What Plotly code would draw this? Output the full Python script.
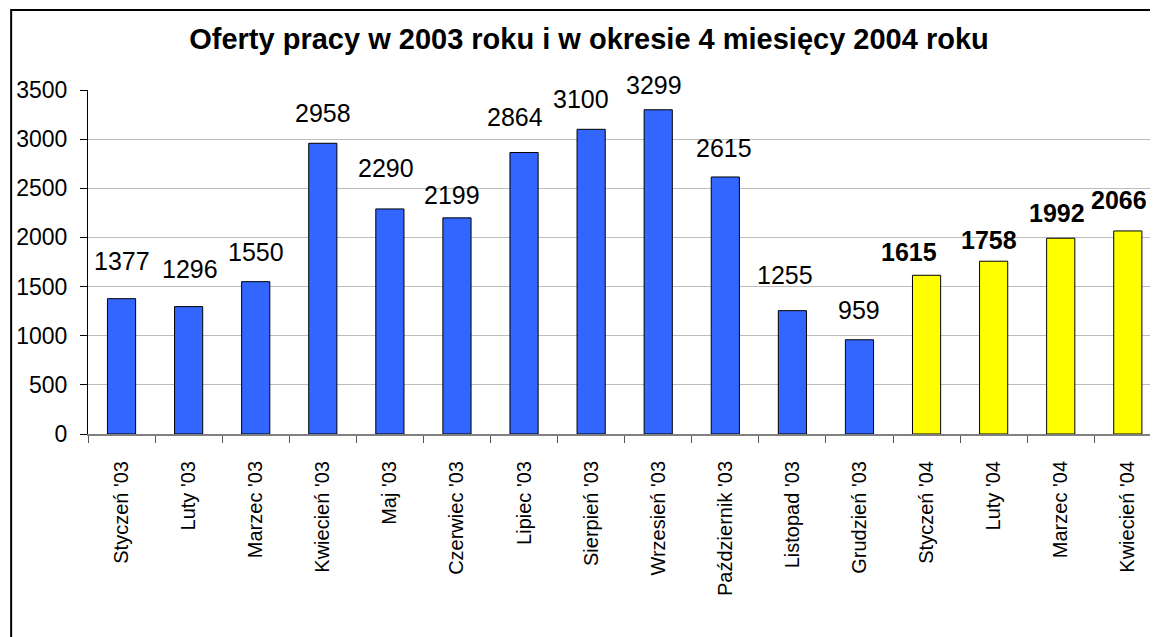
import plotly.graph_objects as go

categories = ["Styczeń '03", "Luty '03", "Marzec '03", "Kwiecień '03", "Maj '03",
              "Czerwiec '03", "Lipiec '03", "Sierpień '03", "Wrzesień '03",
              "Październik '03", "Listopad '03", "Grudzień '03",
              "Styczeń '04", "Luty '04", "Marzec '04", "Kwiecień '04"]
values = [1377, 1296, 1550, 2958, 2290, 2199, 2864, 3100, 3299, 2615, 1255, 959,
          1615, 1758, 1992, 2066]
is_2004 = [False] * 12 + [True] * 4
y_ticks = [0, 500, 1000, 1500, 2000, 2500, 3000, 3500]

# styling: manual data-label offsets (pixels) as placed in the original chart
label_dx = [0, 1, 0, 0, -3.5, -4.5, -9, -10, -4, -1, -7, 0, -18, -4.5, -4, -8.5]
label_dy = [22, 22, 14, 14, 25, 7, 20, 14, 9, 13, 20, 14, 7, 5, 9, 15]

colors = ["#FFFF00" if f else "#3366FF" for f in is_2004]

fig = go.Figure()
fig.add_trace(go.Bar(
    x=categories, y=values,
    marker=dict(color=colors, line=dict(color="#000000", width=1)),
    width=0.42,
    hoverinfo="x+y",
))

for c, v, f, dx, dy in zip(categories, values, is_2004, label_dx, label_dy):
    fig.add_annotation(
        x=c, y=v, text=f"<b>{v}</b>" if f else str(v),
        showarrow=False, yanchor="bottom", xshift=dx, yshift=dy,
        font=dict(family="Liberation Sans, Arial", size=25, color="#000000"),
    )

# page offset of 8px (body margin) is taken into account in the margins
fig.update_layout(
    width=1158, height=637,
    margin=dict(l=78, r=8, t=82, b=211, pad=0),
    paper_bgcolor="#FFFFFF", plot_bgcolor="#FFFFFF",
    font=dict(family="Liberation Sans, Arial", color="#000000"),
    showlegend=False,
    bargap=0.58,
    title=dict(
        text="<b>Oferty pracy w 2003 roku i w okresie 4 miesięcy 2004 roku</b>",
        x=(589 - 8) / 1158, xanchor="center", y=1 - (38.5 - 8) / 637, yanchor="middle",
        font=dict(family="Liberation Sans, Arial", size=29, color="#000000"),
    ),
    xaxis=dict(
        type="category", range=[-0.5, 15.45],
        tickangle=-90, tickfont=dict(size=20),
        ticks="outside", ticklen=7, tickcolor="#555555", tickson="boundaries",
        showline=True, linecolor="#808080", linewidth=2,
        showgrid=False, ticklabelstandoff=17,
    ),
    yaxis=dict(
        range=[0, 3500], tickvals=y_ticks,
        tickfont=dict(size=23),
        ticks="outside", ticklen=7, tickcolor="#000000",
        showline=True, linecolor="#000000", linewidth=1,
        showgrid=True, gridcolor="#BDBDBD", gridwidth=1,
        zeroline=False, ticklabelstandoff=8,
    ),
)

# outer chart frame (screen px: plot left 86, plot top 90, plot bottom 434)
fig.add_shape(type="rect", xref="paper", yref="paper",
              x0=(9 - 86) / 1072, x1=(1170 - 86) / 1072,
              y0=(434 - 660) / 344, y1=(434 - 10) / 344,
              line=dict(color="#000000", width=2), layer="below")

fig.write_html("out.html")
